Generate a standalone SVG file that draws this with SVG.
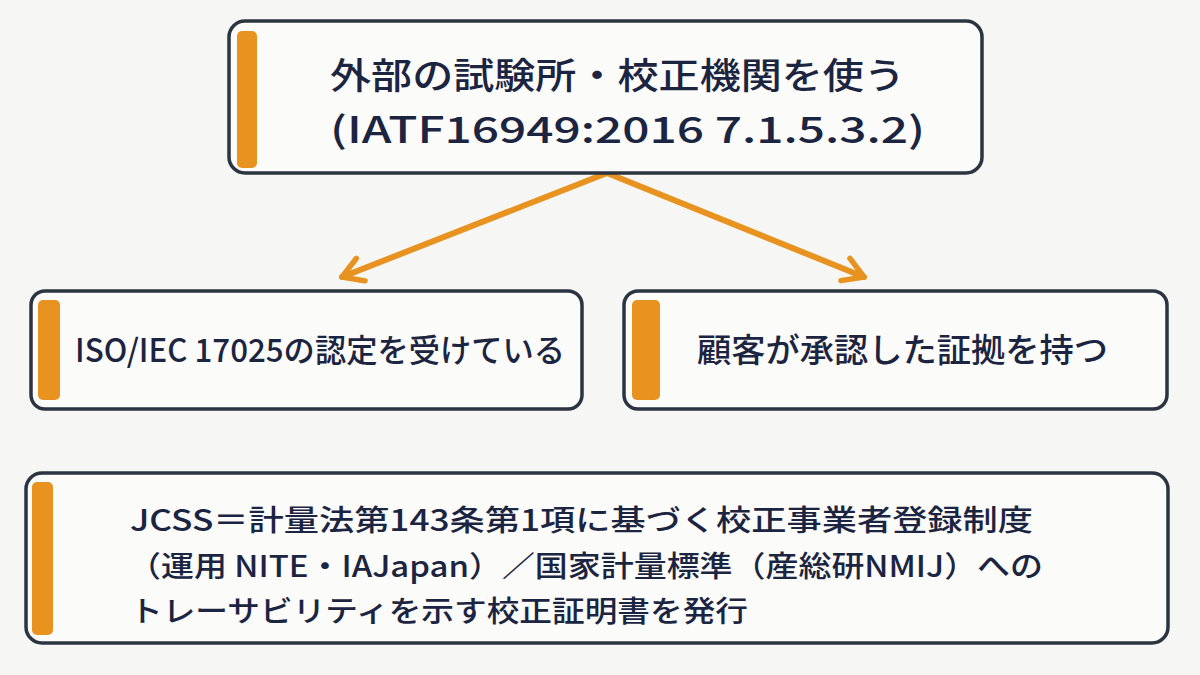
<svg xmlns="http://www.w3.org/2000/svg" width="1200" height="675" viewBox="0 0 1200 675">
<defs>
<style>
.box{fill:#fbfbf9;stroke:#2b3542;stroke-width:3.5}
.bar{fill:#e8921f}
.t{font-family:"Noto Sans CJK JP","Noto Sans",sans-serif;font-weight:500;fill:#1b2440}
.con{fill:none;stroke:#e8921f;stroke-width:6;stroke-linecap:round;stroke-linejoin:round}
</style>
<marker id="ah" viewBox="0 0 30 30" refX="24" refY="15" markerWidth="30" markerHeight="30" markerUnits="userSpaceOnUse" orient="auto">
<path d="M4,3 L24,15 L4,27" fill="none" stroke="#e8921f" stroke-width="5.5" stroke-linecap="round" stroke-linejoin="round"/>
</marker>
</defs>
<rect width="1200" height="675" fill="#f6f6f4"/>
<g id="connectors">
<path class="con" d="M607,173 L342,277" marker-end="url(#ah)"/>
<path class="con" d="M607,173 L864,277" marker-end="url(#ah)"/>
</g>
<g id="top">
<rect class="box" x="229" y="21" width="753" height="152" rx="16"/>
<rect class="bar" x="237" y="31" width="20" height="137" rx="5"/>
<text class="t" x="330" y="89" font-size="36" textLength="575" lengthAdjust="spacingAndGlyphs">外部の試験所・校正機関を使う</text>
<text class="t" x="330" y="143" font-size="36" textLength="595" lengthAdjust="spacingAndGlyphs">(IATF16949:2016 7.1.5.3.2)</text>
</g>
<g id="left">
<rect class="box" x="31" y="291" width="551" height="118" rx="14"/>
<rect class="bar" x="38" y="300" width="22" height="100" rx="5"/>
<text class="t" x="75" y="362" font-size="32" textLength="490" lengthAdjust="spacingAndGlyphs">ISO/IEC 17025の認定を受けている</text>
</g>
<g id="right">
<rect class="box" x="624" y="291" width="543" height="118" rx="14"/>
<rect class="bar" x="632" y="300" width="28" height="100" rx="5"/>
<text class="t" x="697" y="362" font-size="33" textLength="411" lengthAdjust="spacingAndGlyphs">顧客が承認した証拠を持つ</text>
</g>
<g id="bottom">
<rect class="box" x="26" y="473" width="1142" height="170" rx="16"/>
<rect class="bar" x="32" y="482" width="21" height="153" rx="5"/>
<text class="t" x="130" y="531" font-size="29" textLength="903" lengthAdjust="spacingAndGlyphs">JCSS＝計量法第143条第1項に基づく校正事業者登録制度</text>
<text class="t" x="128" y="577" font-size="29" textLength="915" lengthAdjust="spacingAndGlyphs">（運用 NITE・IAJapan）／国家計量標準（産総研NMIJ）への</text>
<text class="t" x="130" y="622" font-size="29" textLength="618" lengthAdjust="spacingAndGlyphs">トレーサビリティを示す校正証明書を発行</text>
</g>
</svg>
